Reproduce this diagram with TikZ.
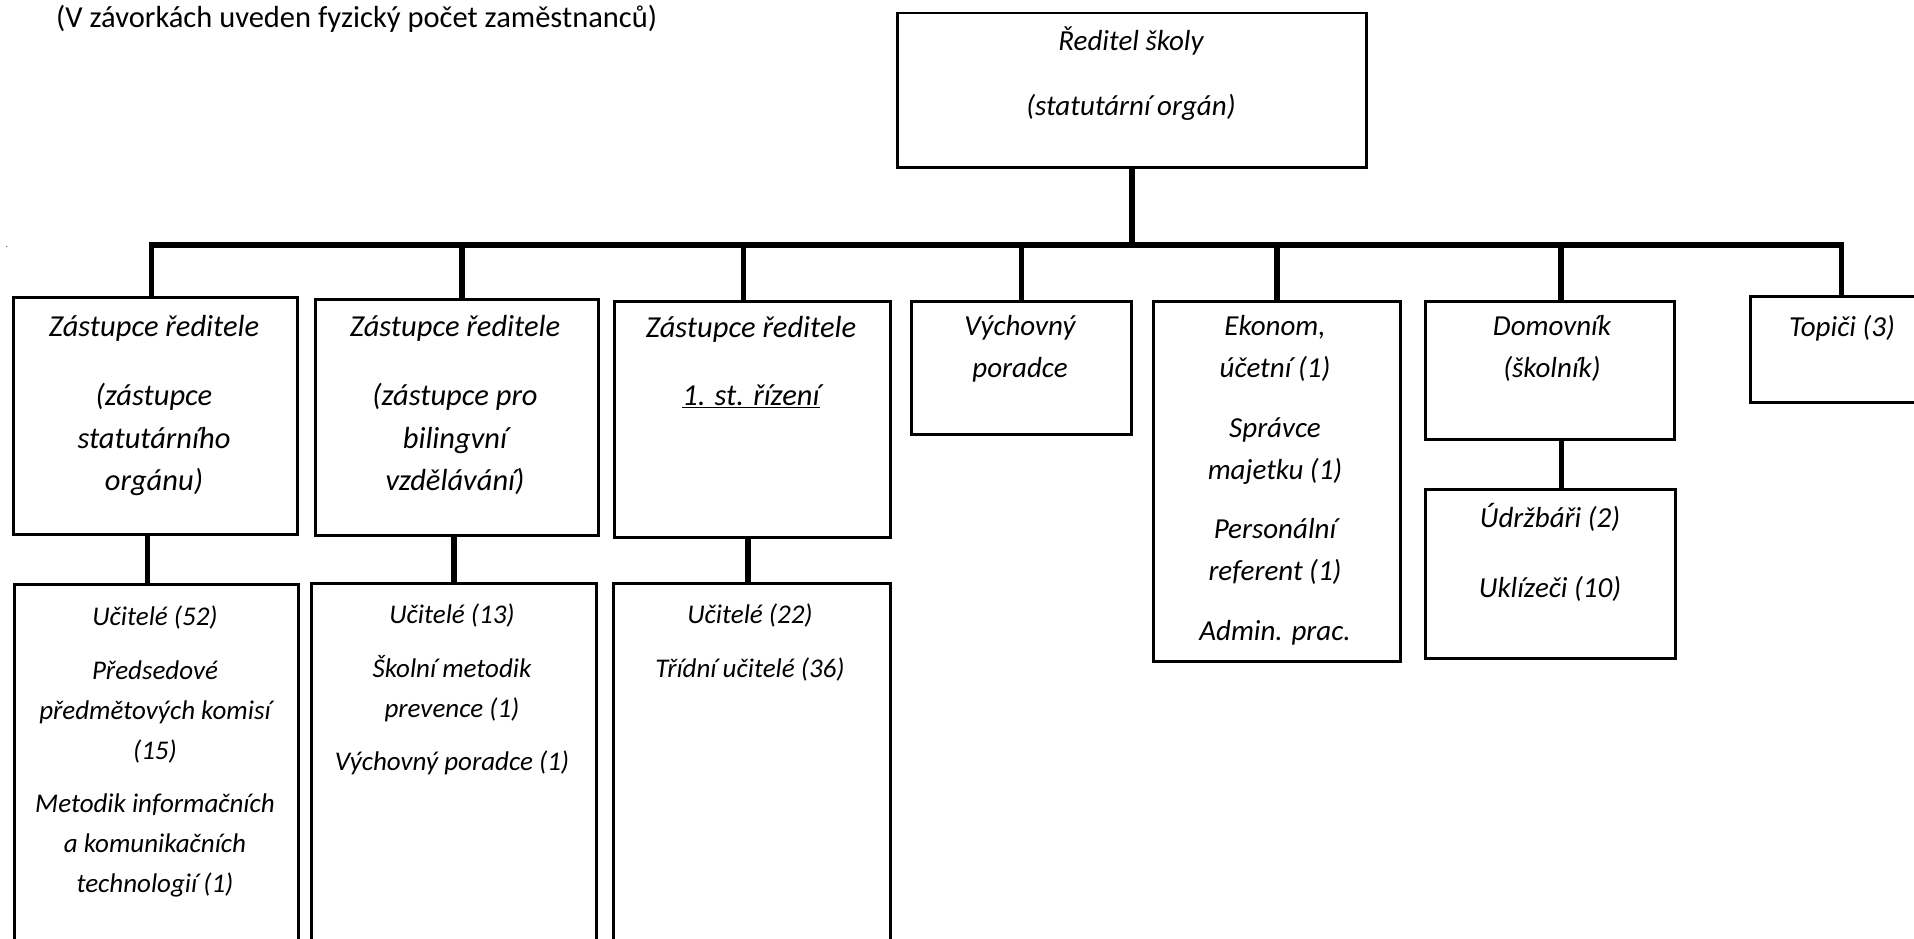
\documentclass[tikz,border=0pt]{standalone}
\usepackage{fontspec}
\setmainfont{Carlito}
\usetikzlibrary{positioning}
\newcommand{\boxfont}{\fontsize{29}{42}\selectfont\itshape}
\newcommand{\zastfont}{\fontsize{30.5}{42.5}\selectfont\itshape}
\newcommand{\lowfont}{\fontsize{27}{40}\selectfont\itshape}
\newcommand{\notefont}{\fontsize{30.5}{36}\selectfont}
\newcommand{\boxlines}[1]{\begin{tabular}[t]{@{}c@{}}#1\end{tabular}}

\tikzset{
  box/.style 2 args={draw, line width=2.5pt, anchor=north west, inner sep=0pt,
    minimum width=#1pt, minimum height=#2pt},
  boxtext/.style={anchor=base, font=\boxfont, inner sep=0pt},
  link/.style={line width=5.5pt},
}

\begin{document}
\begin{tikzpicture}[x=1pt, y=-1pt]
  % General frame is (0,0) to (1914,939)
  \useasboundingbox (0,0) rectangle (1914,939);
  \clip (0,0) rectangle (1914,939);

  % note
  \node[anchor=base west, font=\notefont, inner sep=0pt] (note) at (56,28)
    {(V závorkách uveden fyzický počet zaměstnanců)};
  \node[font=\fontsize{8}{8}\selectfont, inner sep=0pt] (dot) at (7,247) {.};

  % director
  \node[box={469}{154}] (reditel) at (896,12) {};
  \node[boxtext] (reditelt) at (1131,51)
    {\boxlines{Ředitel školy\\[23pt](statutární orgán)}};

  % first level
  \node[box={284}{237}] (zast1) at (12,296) {};
  \node[boxtext, font=\zastfont] (zast1t) at (154,336)
    {\boxlines{Zástupce ředitele\\[27pt](zástupce\\statutárního\\orgánu)}};
  \node[box={283}{236}] (zast2) at (314,298) {};
  \node[boxtext, font=\zastfont] (zast2t) at (455,336)
    {\boxlines{Zástupce ředitele\\[27pt](zástupce pro\\bilingvní\\vzdělávání)}};
  \node[box={276}{236}] (zast3) at (613,300) {};
  \node[boxtext, font=\zastfont] (zast3t) at (751,337)
    {\boxlines{Zástupce ředitele\\[26pt]\underline{1. st. řízení}}};
  \node[box={220}{133}] (vychov) at (910,300) {};
  \node[boxtext] (vychovt) at (1020,335) {\boxlines{Výchovný\\poradce}};
  \node[box={247}{360}] (ekonom) at (1152,300) {};
  \node[boxtext] (ekonomt) at (1275,335)
    {\boxlines{Ekonom,\\účetní (1)\\[18pt]Správce\\majetku (1)\\[17pt]Personální\\referent (1)\\[18pt]Admin. prac.}};
  \node[box={249}{138}] (domov) at (1424,300) {};
  \node[boxtext] (domovt) at (1552,335) {\boxlines{Domovník\\(školník)}};
  \node[box={186}{106}] (topici) at (1749,295) {};
  \node[boxtext] (topicit) at (1842,336) {Topiči (3)};

  % second level
  \node[box={284}{400}] (ucit1) at (13,583) {};
  \node[boxtext, font=\lowfont] (ucit1t) at (155,625)
    {\boxlines{Učitelé (52)\\[14pt]Předsedové\\předmětových komisí\\(15)\\[13pt]Metodik informačních\\a komunikačních\\technologií (1)}};
  \node[box={285}{400}] (ucit2) at (310,582) {};
  \node[boxtext, font=\lowfont] (ucit2t) at (452,623)
    {\boxlines{Učitelé (13)\\[14pt]Školní metodik\\prevence (1)\\[13pt]Výchovný poradce (1)}};
  \node[box={277}{400}] (ucit3) at (612,582) {};
  \node[boxtext, font=\lowfont] (ucit3t) at (750,623)
    {\boxlines{Učitelé (22)\\[14pt]Třídní učitelé (36)}};
  \node[box={250}{169}] (udrz) at (1424,488) {};
  \node[boxtext] (udrzt) at (1550,527) {\boxlines{Údržbáři (2)\\[28pt]Uklízeči (10)}};

  % connectors
  \coordinate (bar) at (0,245);
  \draw[link] (reditel.south) -- (reditel.south |- bar);
  \draw[link] ([xshift=-4pt]zast1.north) -- ([xshift=-4pt]zast1.north |- bar)
    -- ([xshift=-2pt]topici.north |- bar) -- ([xshift=-2pt]topici.north);
  \foreach \n/\s in {zast2/5, zast3/-9, vychov/0, ekonom/0, domov/11}
    \draw[link] ([xshift=\s pt]\n.north |- bar) -- ([xshift=\s pt]\n.north);
  \foreach \a/\b/\s in {zast1/ucit1/-9, zast2/ucit2/0, zast3/ucit3/-4, domov/udrz/11}
    \draw[link] ([xshift=\s pt]\b.north |- \a.south) -- ([xshift=\s pt]\b.north);
\end{tikzpicture}
\end{document}
